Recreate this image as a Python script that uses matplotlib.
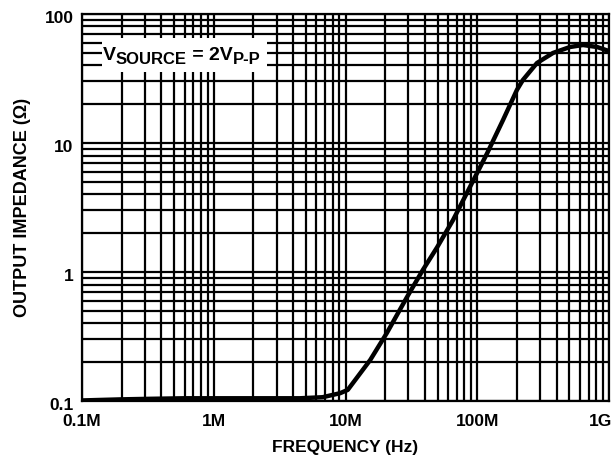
import matplotlib
matplotlib.use("Agg")
import matplotlib.pyplot as plt
from matplotlib.patches import Rectangle
from matplotlib.transforms import IdentityTransform, ScaledTranslation
from matplotlib.ticker import FixedLocator, LogLocator, NullFormatter

# --- Data ---
freq_hz = [1.0e5, 2.0e5, 3.3e5, 6.0e5, 1.2e6, 2.5e6, 4.5e6, 6.7e6, 9.1e6,
           1.04e7, 1.54e7, 2.06e7, 2.93e7, 3.87e7, 4.95e7, 6.55e7, 8.8e7,
           1.19e8, 1.57e8, 2.0e8, 2.22e8, 2.84e8, 3.76e8, 5.06e8, 6.35e8,
           8.11e8, 1.0e9]
impedance_ohm = [0.101, 0.103, 0.104, 0.105, 0.105, 0.105, 0.105, 0.107, 0.115,
                 0.122, 0.208, 0.337, 0.64, 1.04, 1.55, 2.53, 4.56,
                 8.35, 15.1, 25.8, 30.8, 41.7, 49.9, 55.5, 57.5,
                 55.5, 51.6]

x_ticks = [1e5, 1e6, 1e7, 1e8, 1e9]
x_tick_labels = ["0.1M", "1M", "10M", "100M", "1G"]
y_ticks = [0.1, 1, 10, 100]
y_tick_labels = ["0.1", "1", "10", "100"]

# condition label: (text, font size, baseline drop in px)
note_pieces = [("V", 14, 0), ("SOURCE", 12, -4), (" = 2V", 14, 0), ("P-P", 12, -4)]

plt.rcParams["font.family"] = ["Liberation Sans", "DejaVu Sans"]
plt.rcParams["font.weight"] = "bold"


def draw_note(fig, ax):
    # white patch that hides the grid behind the label
    ax.add_patch(Rectangle((0.038, 0.850), 0.313, 0.088, transform=ax.transAxes,
                           facecolor="white", edgecolor="none", zorder=3))
    renderer = fig.canvas.get_renderer()
    x = 103.0
    base = 465 - 60.0
    for text, size, dy in note_pieces:
        t = fig.text(x, base + dy, text, transform=IdentityTransform(),
                     fontsize=size, fontweight="bold", va="baseline", ha="left",
                     zorder=4)
        x += t.get_window_extent(renderer).width


def plot_impedance(output_file="out.png"):
    fig = plt.figure(figsize=(6.13, 4.65), dpi=100)
    ax = fig.add_axes([0.1338, 0.1376, 0.8597, 0.8323])

    ax.plot(freq_hz, impedance_ohm, color="black", linewidth=3.2,
            solid_capstyle="round", zorder=3)

    ax.set_xscale("log")
    ax.set_yscale("log")
    ax.set_xlim(1e5, 1e9)
    ax.set_ylim(0.1, 100)

    # --- Grid: every major and minor decade line, all black ---
    ax.xaxis.set_major_locator(FixedLocator(x_ticks))
    ax.set_xticklabels(x_tick_labels)
    ax.yaxis.set_major_locator(FixedLocator(y_ticks))
    ax.set_yticklabels(y_tick_labels)
    ax.xaxis.set_minor_locator(LogLocator(base=10, subs=range(2, 10)))
    ax.yaxis.set_minor_locator(LogLocator(base=10, subs=range(2, 10)))
    ax.xaxis.set_minor_formatter(NullFormatter())
    ax.yaxis.set_minor_formatter(NullFormatter())
    ax.grid(True, which="both", color="black", linewidth=1.6)
    ax.tick_params(which="both", length=0, labelsize=12.5)
    ax.tick_params(axis="x", pad=9)
    ax.tick_params(axis="y", pad=6)
    for spine in ax.spines.values():
        spine.set_linewidth(1.6)

    # keep "1G" inside the figure, nudge y labels down a little like the original
    last = ax.get_xticklabels()[-1]
    last.set_ha("right")
    last.set_transform(last.get_transform() + ScaledTranslation(3 / 100, 0, fig.dpi_scale_trans))
    for lab in ax.get_yticklabels():
        lab.set_transform(lab.get_transform() + ScaledTranslation(0, -3 / 100, fig.dpi_scale_trans))

    ax.set_xlabel("FREQUENCY (Hz)", fontsize=12.5, fontweight="bold", labelpad=8)
    ax.set_ylabel("OUTPUT IMPEDANCE (Ω)", fontsize=13, fontweight="bold", labelpad=10)

    draw_note(fig, ax)

    fig.savefig(output_file, dpi=100)


if __name__ == "__main__":
    plot_impedance()
